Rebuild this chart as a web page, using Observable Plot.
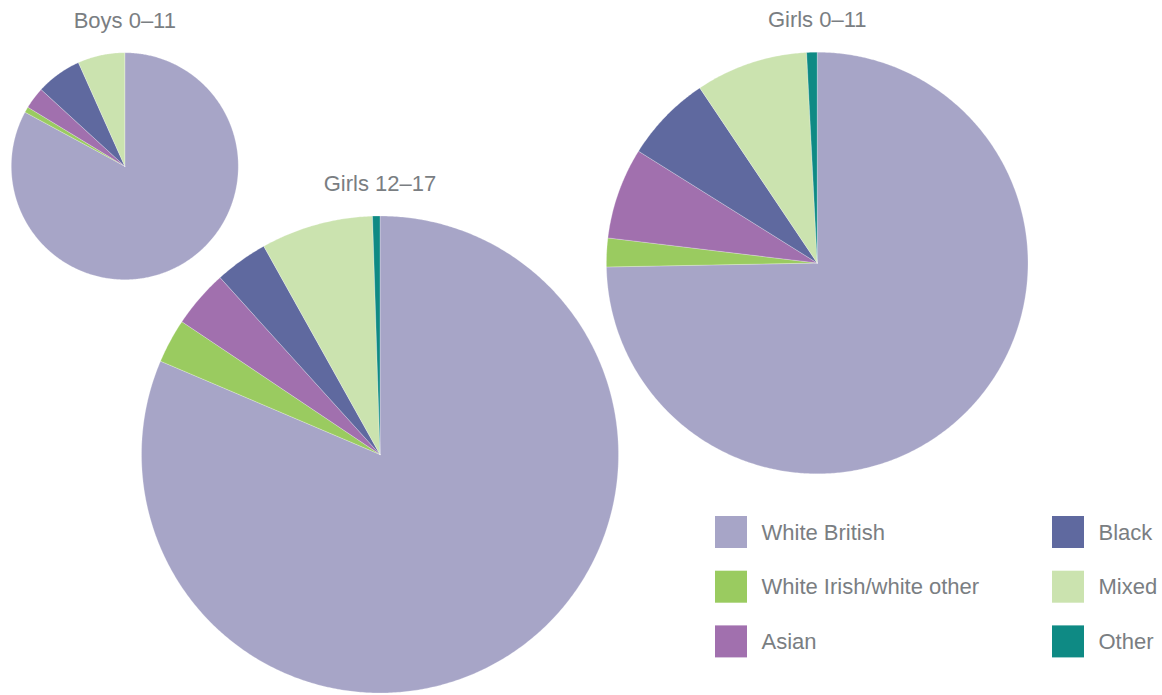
<!DOCTYPE html>
<html>
<head>
<meta charset="utf-8">
<script src="https://cdn.jsdelivr.net/npm/d3@7"></script>
<script src="https://cdn.jsdelivr.net/npm/@observablehq/plot@0.6"></script>
<style>
  html, body { margin: 0; padding: 0; background: #fff; }
  #chart { width: 1162px; height: 695px; }
  svg { font-family: "Liberation Sans", Arial, sans-serif; }
</style>
</head>
<body>
<div id="chart"></div>
<script>
// ---- data ----
const categories = ["White British", "White Irish/white other", "Asian", "Black", "Mixed", "Other"];
const colors = ["#a7a5c7", "#9acb60", "#a170ae", "#5f699f", "#cbe3af", "#0e8a84"];
const groups = ["Boys 0–11", "Girls 12–17", "Girls 0–11"];
const boys0to11 = [82.9, 0.8, 3.1, 6.5, 6.7, 0];
const girls12to17 = [81.4, 3.0, 3.9, 3.6, 7.6, 0.5];
const girls0to11 = [74.7, 2.2, 7.0, 6.7, 8.6, 0.8];
const seriesValues = [boys0to11, girls12to17, girls0to11];

// ---- layout (pixels) ----
const W = 1162, H = 695;
const layout = [
  {cx: 124.3, cy: 165.7, r: 113.5},
  {cx: 379.5, cy: 454.0, r: 238.5},
  {cx: 816.7, cy: 262.5, r: 210.8}
];
const textColor = "#7a7e82";

// build slice polygons from d3.pie
const pie = d3.pie().sort(null).value(d => d.value);
const slicePts = [];
const titles = [];
groups.forEach((g, gi) => {
  const L = layout[gi];
  const arcs = pie(categories.map((c, i) => ({category: c, value: seriesValues[gi][i]})));
  arcs.forEach((a) => {
    if (a.endAngle - a.startAngle <= 0) return;
    const key = g + "|" + a.data.category;
    slicePts.push({key, category: a.data.category, x: L.cx, y: L.cy});
    const n = Math.max(2, Math.ceil((a.endAngle - a.startAngle) / (Math.PI / 360)));
    for (let k = 0; k <= n; k++) {
      const t = a.startAngle + (a.endAngle - a.startAngle) * k / n;
      slicePts.push({key, category: a.data.category, x: L.cx + L.r * Math.sin(t), y: L.cy - L.r * Math.cos(t)});
    }
    slicePts.push({key, category: a.data.category, x: L.cx, y: L.cy});
  });
  titles.push({label: g, x: L.cx, y: L.cy - L.r - 25});
});

// legend
const legend = categories.map((c, i) => ({
  category: c,
  x: i < 3 ? 715 : 1052,
  y: 532 + (i % 3) * 54.7
}));

const chart = Plot.plot({
  width: W,
  height: H,
  margin: 0,
  x: {type: "identity", axis: null},
  y: {type: "identity", axis: null},
  color: {domain: categories, range: colors},
  marks: [
    Plot.line(slicePts, {x: "x", y: "y", z: "key", fill: "category", stroke: "#ffffff", strokeWidth: 0.5, strokeOpacity: 0.5, curve: "linear"}),
    Plot.text(titles, {x: "x", y: "y", text: "label", textAnchor: "middle", lineAnchor: "bottom", fontSize: 22, fill: textColor}),
    Plot.rect(legend, {x1: "x", x2: d => d.x + 32, y1: d => d.y - 16, y2: d => d.y + 16, fill: "category"}),
    Plot.text(legend, {x: d => d.x + 46, y: "y", text: "category", textAnchor: "start", lineAnchor: "middle", fontSize: 22, fill: textColor})
  ]
});
document.getElementById("chart").appendChild(chart);
</script>
</body>
</html>
